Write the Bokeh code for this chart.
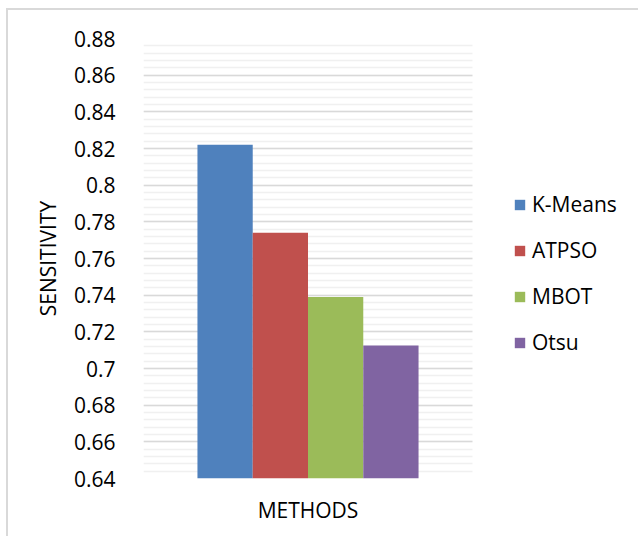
from bokeh.plotting import figure
from bokeh.models import (ColumnDataSource, Range1d, FixedTicker, SingleIntervalTicker,
                          Legend, LegendItem, BoxAnnotation)
from bokeh.embed import file_html
from bokeh.resources import INLINE

categories = ["METHODS"]
methods = ["K-Means", "ATPSO", "MBOT", "Otsu"]
sensitivity = [0.822, 0.774, 0.739, 0.7125]
colors = ["#4F81BD", "#C0504D", "#9BBB59", "#8064A2"]
y_ticks = [0.64, 0.66, 0.68, 0.70, 0.72, 0.74, 0.76, 0.78, 0.80, 0.82, 0.84, 0.86, 0.88]
y_tick_labels = ["0.64", "0.66", "0.68", "0.7", "0.72", "0.74", "0.76", "0.78", "0.8",
                 "0.82", "0.84", "0.86", "0.88"]

FONT = "Open Sans"
FS = "21px"

# plot area: category slot spans x in [0, 1]; the frame continues to the right to hold the legend
X_END = 495 / 329
p = figure(width=638, height=536, output_backend="svg", toolbar_location=None,
           x_range=Range1d(0, X_END), y_range=Range1d(0.64, 0.88),
           min_border_left=143, min_border_right=0, min_border_top=38, min_border_bottom=58)
p.outline_line_color = None
p.background_fill_color = "white"
p.border_fill_color = None
p.styles = {
    "background-color": "white",
    "background-image": "linear-gradient(#d9d9d9, #d9d9d9), linear-gradient(#d9d9d9, #d9d9d9)",
    "background-position": "6px 8px, 6px 8px",
    "background-size": "2px 100%, 100% 2px",
    "background-repeat": "no-repeat",
}

bar_w = 0.168
offsets = [(i - (len(methods) - 1) / 2) * bar_w for i in range(len(methods))]
items = []
for m, v, c, off in zip(methods, sensitivity, colors, offsets):
    src = ColumnDataSource(dict(x=[0.5 + off], top=[v]))
    r = p.vbar(x="x", top="top", bottom=0.64, width=bar_w,
               source=src, fill_color=c, line_color=None)
    items.append(LegendItem(label=m, renderers=[r]))

# axes
p.yaxis.ticker = SingleIntervalTicker(interval=0.02, num_minor_ticks=5)
p.yaxis.major_label_overrides = {t: l for t, l in zip(y_ticks, y_tick_labels)}
p.yaxis.axis_line_color = None
p.yaxis.major_tick_line_color = None
p.yaxis.minor_tick_line_color = None
p.yaxis.major_tick_in = 0
p.yaxis.major_tick_out = 0
p.yaxis.major_label_text_font = FONT
p.yaxis.major_label_text_font_size = FS
p.yaxis.major_label_text_color = "#000000"
p.yaxis.major_label_standoff = 24
p.yaxis.axis_label = "SENSITIVITY"
p.yaxis.axis_label_text_font = FONT
p.yaxis.axis_label_text_font_size = FS
p.yaxis.axis_label_text_font_style = "normal"
p.yaxis.axis_label_text_color = "#000000"
p.yaxis.axis_label_standoff = 9

p.xaxis.ticker = FixedTicker(ticks=[0.5])
p.xaxis.major_label_overrides = {0.5: categories[0]}
p.xaxis.axis_line_color = None
p.xaxis.major_tick_line_color = None
p.xaxis.minor_tick_line_color = None
p.xaxis.major_tick_in = 0
p.xaxis.major_tick_out = 0
p.xaxis.major_label_text_font = FONT
p.xaxis.major_label_text_font_size = FS
p.xaxis.major_label_text_color = "#000000"
p.xaxis.major_label_standoff = 17

p.xgrid.grid_line_color = None
p.ygrid.grid_line_color = "#d9d9d9"
p.ygrid.grid_line_width = 1.5
p.ygrid.minor_grid_line_color = "#f0f0f0"
p.ygrid.minor_grid_line_width = 1.5

# blank out the grid to the right of the category slot (legend area)
p.add_layout(BoxAnnotation(left=1.0, right=X_END + 1, bottom=0.5, top=1.0,
                           fill_color="white", fill_alpha=1, line_color=None))

legend = Legend(items=items, location=(370, 122), orientation="vertical",
                glyph_width=13, glyph_height=13, label_standoff=6, spacing=18,
                padding=0, margin=0, border_line_color=None, background_fill_alpha=0,
                label_text_font=FONT, label_text_font_size=FS,
                label_text_color="#000000", label_height=21)
p.add_layout(legend)

open("out.html", "w").write(file_html(p, INLINE))
